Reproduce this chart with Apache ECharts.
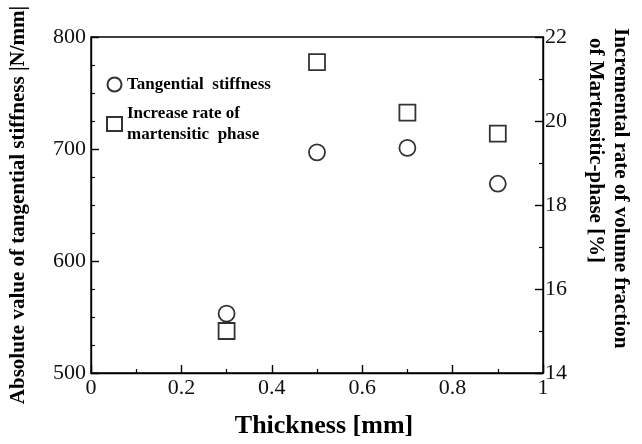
<!DOCTYPE html>
<html><head><meta charset="utf-8">
<script src="https://cdn.jsdelivr.net/npm/echarts@6/dist/echarts.min.js"></script>
<style>html,body{margin:0;padding:0;background:#fff}#c{width:642px;height:444px}</style>
</head><body><div id="c"></div>
<script>
const thickness = [0.3, 0.5, 0.7, 0.9];
const stiffness = [553, 697, 701, 669];
const increaseRate = [15.0, 21.4, 20.2, 19.7];
const xTicks = [0, 0.2, 0.4, 0.6, 0.8, 1];
const leftTicks = [500, 600, 700, 800];
const rightTicks = [14, 16, 18, 20, 22];

const F = 'Liberation Serif';
const chart = echarts.init(document.getElementById('c'));
const axisCommon = {
  axisLine: {show: true, lineStyle: {color: '#000', width: 1.4}},
  axisTick: {show: true, inside: true, length: 8, lineStyle: {color: '#000', width: 1.4}},
  minorTick: {show: true, splitNumber: 2, length: 4, lineStyle: {color: '#000', width: 1.2}},
  splitLine: {show: false},
  axisLabel: {color: '#111', fontFamily: F, fontSize: 22}
};
chart.setOption({
  animation: false,
  backgroundColor: '#fff',
  grid: {left: 87, right: 99, top: 37, bottom: 66, show: true, borderColor: '#000', borderWidth: 1.4, backgroundColor: 'transparent'},
  legend: {
    orient: 'vertical', left: 101, top: 69, itemGap: 8, itemWidth: 15, itemHeight: 14,
    textStyle: {fontFamily: F, fontWeight: 'bold', fontSize: 17, color: '#000', lineHeight: 21},
    data: [
      {name: 'Tangential  stiffness', icon: 'circle'},
      {name: 'Increase rate of\nmartensitic  phase', icon: 'rect'}
    ]
  },
  xAxis: Object.assign({}, axisCommon, {
    type: 'value', min: xTicks[0], max: xTicks[xTicks.length - 1], interval: 0.2,
    name: 'Thickness [mm]', nameLocation: 'middle', nameGap: 40,
    nameTextStyle: {fontFamily: F, fontWeight: 'bold', fontSize: 26, color: '#000', padding: [0, 0, 0, 14]},
    axisLabel: Object.assign({}, axisCommon.axisLabel, {margin: 4})
  }),
  yAxis: [
    Object.assign({}, axisCommon, {
      type: 'value', min: leftTicks[0], max: leftTicks[leftTicks.length - 1], interval: 100,
      position: 'left',
      minorTick: Object.assign({}, axisCommon.minorTick, {splitNumber: 4}),
      name: 'Absolute value of tangential stiffness |N/mm|', nameLocation: 'middle', nameGap: 62, nameRotate: 90,
      nameTextStyle: {fontFamily: F, fontWeight: 'bold', fontSize: 21, color: '#000', padding: [0, 0, 0, 0]},
      axisLabel: Object.assign({}, axisCommon.axisLabel, {margin: 5, padding: [0, 0, 6, 0]})
    }),
    Object.assign({}, axisCommon, {
      type: 'value', min: rightTicks[0], max: rightTicks[rightTicks.length - 1], interval: 2,
      position: 'right',
      axisLabel: Object.assign({}, axisCommon.axisLabel, {margin: 2, padding: [0, 0, 8, 0]})
    })
  ],
  graphic: [{
    type: 'text', x: 631, y: 28, rotation: -Math.PI / 2,
    style: {text: 'Incremental rate of volume fraction', font: 'bold 21px "Liberation Serif"', fill: '#000', textAlign: 'left', textVerticalAlign: 'top'}
  }, {
    type: 'text', x: 606, y: 38, rotation: -Math.PI / 2,
    style: {text: 'of Martensitic-phase [%]', font: 'bold 21px "Liberation Serif"', fill: '#000', textAlign: 'left', textVerticalAlign: 'top'}
  }],
  series: [
    {
      name: 'Tangential  stiffness', type: 'scatter', yAxisIndex: 0,
      symbol: 'circle', symbolSize: 16,
      itemStyle: {color: '#fff', borderColor: '#000', borderWidth: 1.8},
      data: thickness.map((t, i) => [t, stiffness[i]])
    },
    {
      name: 'Increase rate of\nmartensitic  phase', type: 'scatter', yAxisIndex: 1,
      symbol: 'rect', symbolSize: 16,
      itemStyle: {color: '#fff', borderColor: '#000', borderWidth: 1.8},
      data: thickness.map((t, i) => [t, increaseRate[i]])
    }
  ]
});
</script></body></html>
